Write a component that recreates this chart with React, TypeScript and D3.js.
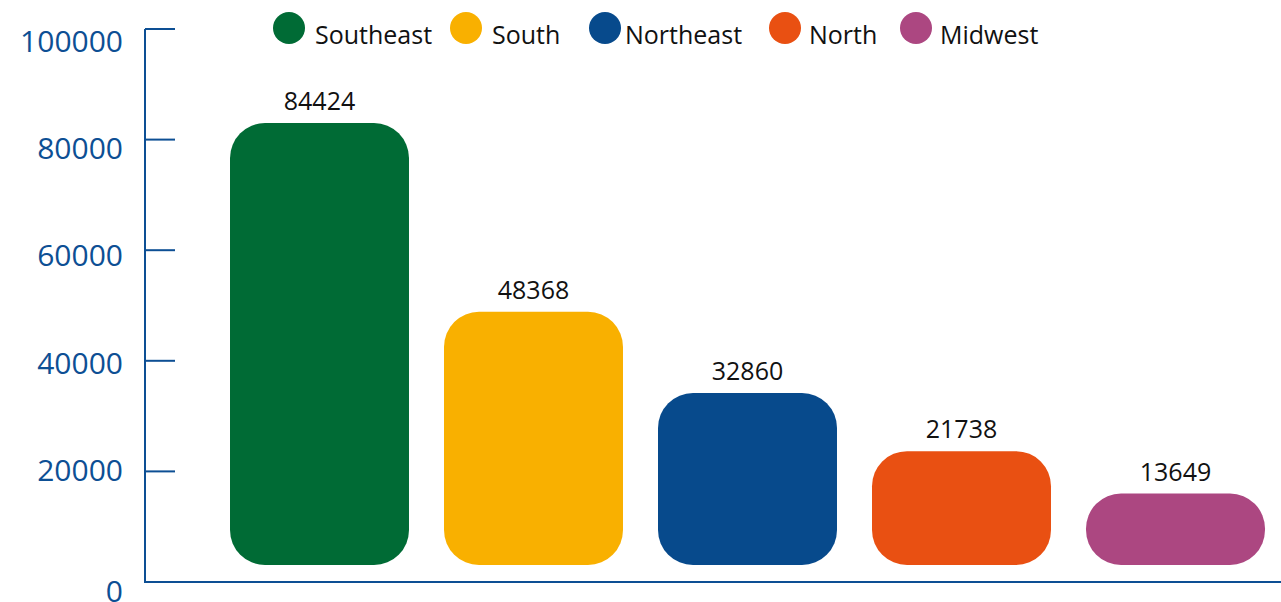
import React from "react";
import * as d3 from "d3";

const regions = ["Southeast", "South", "Northeast", "North", "Midwest"];
const values = [84424, 48368, 32860, 21738, 13649];
const colors = ["#006b35", "#f9b000", "#074a8c", "#e95012", "#ac4781"];
const yTicks = [0, 20000, 40000, 60000, 80000, 100000];

// legend layout (circle centre x, text start x)
const legendCircleX = [289, 466, 605, 785, 916];
const legendTextX = [315, 492, 625, 809, 940];

const W = 1281;
const H = 602;
const AXIS = "#0d4f94";
const FONT = "'Open Sans', 'DejaVu Sans', sans-serif";

export default function App() {
  const x = d3
    .scaleBand<string>()
    .domain(regions)
    .range([212.5, 1282.5])
    .paddingInner(0.1636)
    .paddingOuter(0.0818);

  // axis scale
  const y = d3.scaleLinear().domain([0, 100000]).range([582, 29]);
  // bar scale (bars rest slightly above the axis)
  const barY = d3.scaleLinear().domain([0, 100000]).range([565, 41.5]);
  // tick label placement
  const labelY = d3.scaleLinear().domain([0, 20000, 100000]).range([590, 469.5, 40]);

  const bw = x.bandwidth();

  return (
    <svg
      width={W}
      height={H}
      style={{ position: "absolute", left: 0, top: 0, display: "block", background: "#fff" }}
    >
      {/* axis */}
      <line x1={145} x2={145} y1={y(100000)} y2={y(0)} stroke={AXIS} strokeWidth={2} />
      <line x1={144} x2={W} y1={y(0)} y2={y(0)} stroke={AXIS} strokeWidth={2} />
      {yTicks.map((t) => (
        <g key={t}>
          <line x1={145} x2={175} y1={y(t)} y2={y(t)} stroke={AXIS} strokeWidth={2} />
          <text
            x={123}
            y={labelY(t)}
            textAnchor="end"
            dominantBaseline="central"
            fontFamily={FONT}
            fontSize={30}
            fill={AXIS}
          >
            {t}
          </text>
        </g>
      ))}

      {/* bars */}
      {regions.map((r, i) => {
        const top = barY(values[i]);
        const h = barY(0) - top;
        const rad = Math.min(35, h / 2, bw / 2);
        return (
          <g key={r}>
            <rect x={x(r)} y={top} width={bw} height={h} rx={rad} ry={rad} fill={colors[i]} />
            <text
              x={(x(r) as number) + bw / 2}
              y={top - 13}
              textAnchor="middle"
              fontFamily={FONT}
              fontSize={25}
              fill="#111"
            >
              {values[i]}
            </text>
          </g>
        );
      })}

      {/* legend */}
      {regions.map((r, i) => (
        <g key={"lg" + r}>
          <circle cx={legendCircleX[i]} cy={28} r={16} fill={colors[i]} />
          <text x={legendTextX[i]} y={44} fontFamily={FONT} fontSize={25} fill="#111">
            {r}
          </text>
        </g>
      ))}
    </svg>
  );
}
